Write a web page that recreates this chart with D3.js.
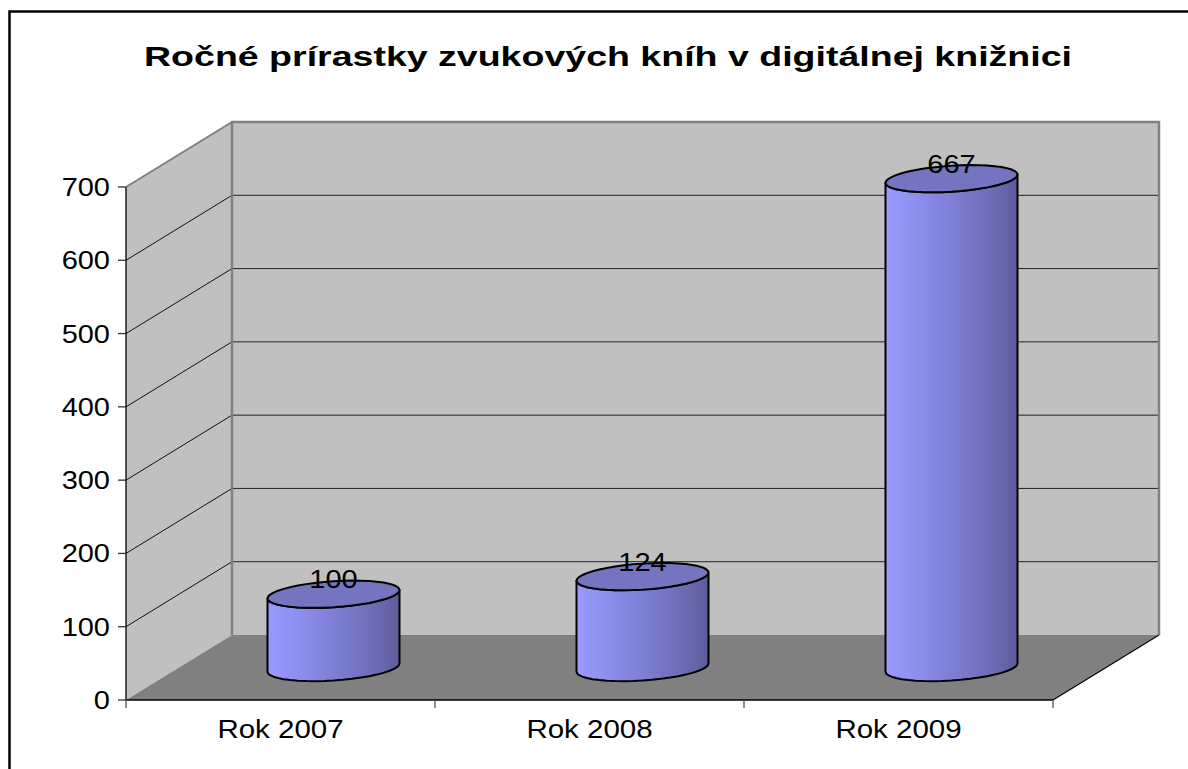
<!DOCTYPE html>
<html>
<head>
<meta charset="utf-8">
<script src="https://cdn.jsdelivr.net/npm/d3@7"></script>
<style>
  html, body { margin: 0; padding: 0; background: #fff; }
  svg { display: block; }
  text { font-family: "Liberation Sans", Arial, sans-serif; }
</style>
</head>
<body>
<svg id="chart" width="1188" height="769"></svg>
<script>
// ---- data ----
const title = "Ročné prírastky zvukových kníh v digitálnej knižnici";
const categories = ["Rok 2007", "Rok 2008", "Rok 2009"];
const values = [100, 124, 667];
const yTicks = [0, 100, 200, 300, 400, 500, 600, 700];

// ---- layout ----
const svg = d3.select("#chart");
const W = 1188, H = 769;
const plot = { left: 126, right: 1053, top: 187, bottom: 700 };
const depth = { dx: 106, dy: -65 };

const y = d3.scaleLinear().domain([0, 700]).range([plot.bottom, plot.top]);
const x = d3.scaleBand().domain(categories).range([plot.left, plot.right]).paddingInner(0).paddingOuter(0);

// frame
svg.append("rect").attr("x", 9.5).attr("y", 11.5).attr("width", W).attr("height", H)
  .attr("fill", "#fff").attr("stroke", "#000").attr("stroke-width", 2.5);

// title
svg.append("text").attr("x", 608).attr("y", 65.5).attr("text-anchor", "middle")
  .attr("font-size", 28.5).attr("font-weight", "bold").attr("fill", "#000").text(title)
  .attr("textLength", 928).attr("lengthAdjust", "spacingAndGlyphs");

const y0 = y(0), yMax = y(700);
const bx = plot.left + depth.dx, by = depth.dy;

// back wall
svg.append("rect").attr("x", bx).attr("y", yMax + by).attr("width", plot.right + depth.dx - bx)
  .attr("height", y0 - yMax).attr("fill", "#c0c0c0");
// side wall
svg.append("path").attr("d", `M${plot.left},${yMax} L${bx},${yMax + by} L${bx},${y0 + by} L${plot.left},${y0} Z`)
  .attr("fill", "#c0c0c0");
// floor
svg.append("path").attr("d", `M${plot.left},${y0} L${bx},${y0 + by} L${plot.right + depth.dx},${y0 + by} L${plot.right},${y0} Z`)
  .attr("fill", "#808080");

// gridlines
const grid = yTicks.filter(v => v > 0 && v < 700);
svg.selectAll(".gb").data(grid).enter().append("line")
  .attr("x1", bx).attr("x2", plot.right + depth.dx)
  .attr("y1", d => y(d) + by).attr("y2", d => y(d) + by)
  .attr("stroke", "#222").attr("stroke-width", 1);
svg.selectAll(".gs").data(grid).enter().append("line")
  .attr("x1", plot.left).attr("x2", bx)
  .attr("y1", d => y(d)).attr("y2", d => y(d) + by)
  .attr("stroke", "#111").attr("stroke-width", 1);

// back wall border (gray)
svg.append("path")
  .attr("d", `M${bx},${y0 + by} L${bx},${yMax + by} L${plot.right + depth.dx},${yMax + by} L${plot.right + depth.dx},${y0 + by}`)
  .attr("fill", "none").attr("stroke", "#808080").attr("stroke-width", 2.5);
// side wall top edge (gray)
svg.append("line").attr("x1", plot.left).attr("y1", yMax).attr("x2", bx).attr("y2", yMax + by)
  .attr("stroke", "#808080").attr("stroke-width", 2);
// floor right edge
svg.append("line").attr("x1", plot.right).attr("y1", y0).attr("x2", plot.right + depth.dx).attr("y2", y0 + by)
  .attr("stroke", "#000").attr("stroke-width", 1.2);

// gradient
const defs = svg.append("defs");
const g = defs.append("linearGradient").attr("id", "cyl").attr("x1", "0").attr("x2", "1").attr("y1", "0").attr("y2", "0");
[[0, "#9a9aff"], [0.2, "#9090f0"], [0.5, "#7f7fd6"], [0.8, "#6d6db5"], [1, "#5c5c9a"]]
  .forEach(([o, c]) => g.append("stop").attr("offset", o).attr("stop-color", c));

// cylinders
const rx = 66, ry = 13, shear = 0.063, N = 22;
function ePt(cx, cy, a) {
  const px = cx + rx * Math.cos(a);
  const py = cy + ry * Math.sin(a) - shear * (px - cx);
  return [px, py];
}
values.forEach((v, i) => {
  const cx = x(categories[i]) + x.bandwidth() / 2 + depth.dx / 2;
  const cyB = y(0) + depth.dy / 2;
  const cyT = y(v) + depth.dy / 2;
  const arcT = d3.range(0, N + 1).map(k => ePt(cx, cyT, Math.PI * k / N));
  const arcB = d3.range(0, N + 1).map(k => ePt(cx, cyB, Math.PI - Math.PI * k / N));
  const d = "M" + arcT.map(p => p.join(",")).join("L") + "L" + arcB.map(p => p.join(",")).join("L") + "Z";
  svg.append("path").attr("d", d).attr("fill", "url(#cyl)")
    .attr("stroke", "#000").attr("stroke-width", 2).attr("stroke-linejoin", "round");
  const top = d3.range(0, 2 * N).map(k => ePt(cx, cyT, Math.PI * k / N));
  svg.append("path").attr("d", "M" + top.map(p => p.join(",")).join("L") + "Z")
    .attr("fill", "#7474c0").attr("stroke", "#000").attr("stroke-width", 2).attr("stroke-linejoin", "round");
  svg.append("text").attr("transform", `translate(${cx},${cyT - 6}) scale(1.16,1)`)
    .attr("text-anchor", "middle").attr("font-size", 25).attr("fill", "#000").text(v);
});

// front axes
svg.append("line").attr("x1", plot.left).attr("x2", plot.left).attr("y1", yMax).attr("y2", y0)
  .attr("stroke", "#000").attr("stroke-width", 1.3);
svg.append("line").attr("x1", plot.left).attr("x2", plot.right).attr("y1", y0).attr("y2", y0)
  .attr("stroke", "#000").attr("stroke-width", 1.5);
svg.selectAll(".yt").data(yTicks).enter().append("line")
  .attr("x1", plot.left - 8).attr("x2", plot.left).attr("y1", d => y(d)).attr("y2", d => y(d))
  .attr("stroke", "#333").attr("stroke-width", 1.3);
svg.selectAll(".yl").data(yTicks).enter().append("text")
  .attr("transform", d => `translate(110,${y(d) + 9}) scale(1.16,1)`)
  .attr("text-anchor", "end").attr("font-size", 25).attr("fill", "#000").text(d => d);
const catEdges = categories.map(c => x(c)).concat([plot.right]);
svg.selectAll(".xt").data(catEdges).enter().append("line")
  .attr("x1", d => d).attr("x2", d => d).attr("y1", y0).attr("y2", y0 + 8)
  .attr("stroke", "#555").attr("stroke-width", 1.3);
svg.selectAll(".xl").data(categories).enter().append("text")
  .attr("transform", d => `translate(${x(d) + x.bandwidth() / 2},738) scale(1.18,1)`)
  .attr("text-anchor", "middle").attr("font-size", 25).attr("fill", "#000").text(d => d);
</script>
</body>
</html>
